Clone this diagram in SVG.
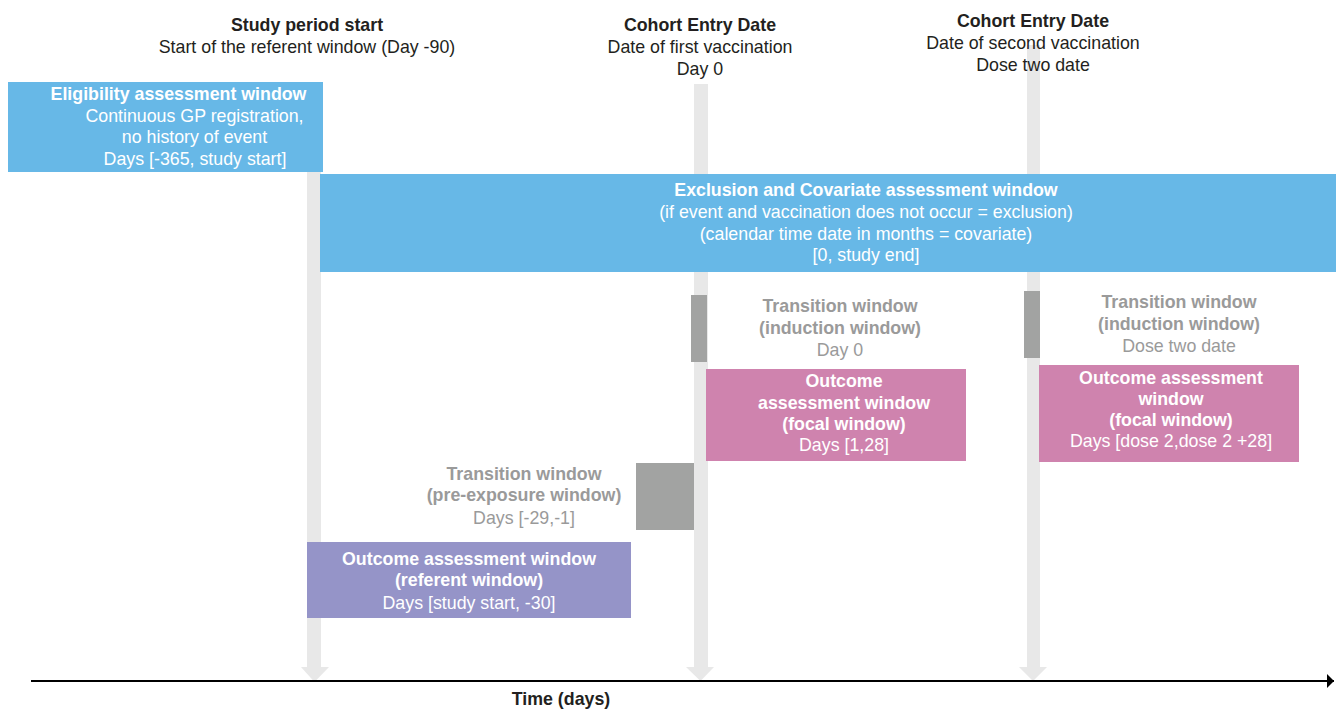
<svg xmlns="http://www.w3.org/2000/svg" width="1336" height="709" viewBox="0 0 1336 709">
<defs>
<style>
text{font-family:"Liberation Sans",Arial,sans-serif;font-size:17.8px;text-anchor:middle}
.b{font-weight:bold}
.dk{fill:#231f20}
.wh{fill:#ffffff}
.gy{fill:#9a9a9a}
.guide{fill:#e8e8e8}
.blue{fill:#67b8e7}
.pink{fill:#cf83ae}
.purple{fill:#9594c8}
.tr{fill:#a2a3a2}
</style>
<marker id="axisArrow" markerWidth="8" markerHeight="14" refX="7" refY="7" orient="auto" markerUnits="userSpaceOnUse">
<path d="M0,0 L7,7 L0,14 Z" fill="#000"/>
</marker>
</defs>
<rect width="1336" height="709" fill="#ffffff"/>

<g id="connectors">
<path class="guide" d="M307,84 H321 V667 H329 L314.5,682 L301,667 H307 Z"/>
<path class="guide" d="M694,84 H708 V667 H714 L700.5,681 L686,667 H694 Z"/>
<path class="guide" d="M1027,45 H1040 V667 H1047 L1033,681 L1019,667 H1027 Z"/>
<line x1="31" y1="681" x2="1334" y2="681" stroke="#000" stroke-width="2" marker-end="url(#axisArrow)"/>
</g>

<g id="header-study-start">
<text class="b dk" x="307" y="31">Study period start</text>
<text class="dk" x="307" y="53">Start of the referent window (Day -90)</text>
</g>
<g id="header-cohort-entry-1">
<text class="b dk" x="700" y="31">Cohort Entry Date</text>
<text class="dk" x="700" y="53">Date of first vaccination</text>
<text class="dk" x="700" y="75">Day 0</text>
</g>
<g id="header-cohort-entry-2">
<text class="b dk" x="1033" y="27">Cohort Entry Date</text>
<text class="dk" x="1033" y="49">Date of second vaccination</text>
<text class="dk" x="1033" y="71">Dose two date</text>
</g>

<g id="eligibility">
<rect class="blue" x="8" y="82" width="315" height="90"/>
<text class="b wh" x="178.5" y="100">Eligibility assessment window</text>
<text class="wh" x="194.5" y="122">Continuous GP registration,</text>
<text class="wh" x="194.5" y="143">no history of event</text>
<text class="wh" x="195" y="165">Days [-365, study start]</text>
</g>

<g id="exclusion">
<rect class="blue" x="320" y="174" width="1016" height="98"/>
<text class="b wh" x="866" y="196">Exclusion and Covariate assessment window</text>
<text class="wh" x="866" y="218">(if event and vaccination does not occur = exclusion)</text>
<text class="wh" x="866" y="240">(calendar time date in months = covariate)</text>
<text class="wh" x="866" y="261">[0, study end]</text>
</g>

<g id="transition-induction-1">
<rect class="tr" x="691" y="295" width="16" height="67"/>
<text class="b gy" x="840" y="312">Transition window</text>
<text class="b gy" x="840" y="334">(induction window)</text>
<text class="gy" x="840" y="356">Day 0</text>
</g>

<g id="focal-window-1">
<rect class="pink" x="706" y="369" width="260" height="92"/>
<text class="b wh" x="844" y="387">Outcome</text>
<text class="b wh" x="844" y="409">assessment window</text>
<text class="b wh" x="844" y="430">(focal window)</text>
<text class="wh" x="844" y="451">Days [1,28]</text>
</g>

<g id="transition-induction-2">
<rect class="tr" x="1024" y="291" width="16" height="67"/>
<text class="b gy" x="1179" y="308">Transition window</text>
<text class="b gy" x="1179" y="330">(induction window)</text>
<text class="gy" x="1179" y="352">Dose two date</text>
</g>

<g id="focal-window-2">
<rect class="pink" x="1039" y="365" width="260" height="97"/>
<text class="b wh" x="1171" y="384">Outcome assessment</text>
<text class="b wh" x="1171" y="405">window</text>
<text class="b wh" x="1171" y="426">(focal window)</text>
<text class="wh" x="1171" y="447">Days [dose 2,dose 2 +28]</text>
</g>

<g id="transition-pre-exposure">
<rect class="tr" x="636" y="463" width="58" height="67"/>
<text class="b gy" x="524" y="480">Transition window</text>
<text class="b gy" x="524" y="501">(pre-exposure window)</text>
<text class="gy" x="524" y="524">Days [-29,-1]</text>
</g>

<g id="referent-window">
<rect class="purple" x="307" y="542" width="324" height="76"/>
<text class="b wh" x="469" y="565">Outcome assessment window</text>
<text class="b wh" x="469" y="586">(referent window)</text>
<text class="wh" x="469" y="609">Days [study start, -30]</text>
</g>

<g id="axis-label">
<text class="b dk" x="561" y="705">Time (days)</text>
</g>
</svg>
